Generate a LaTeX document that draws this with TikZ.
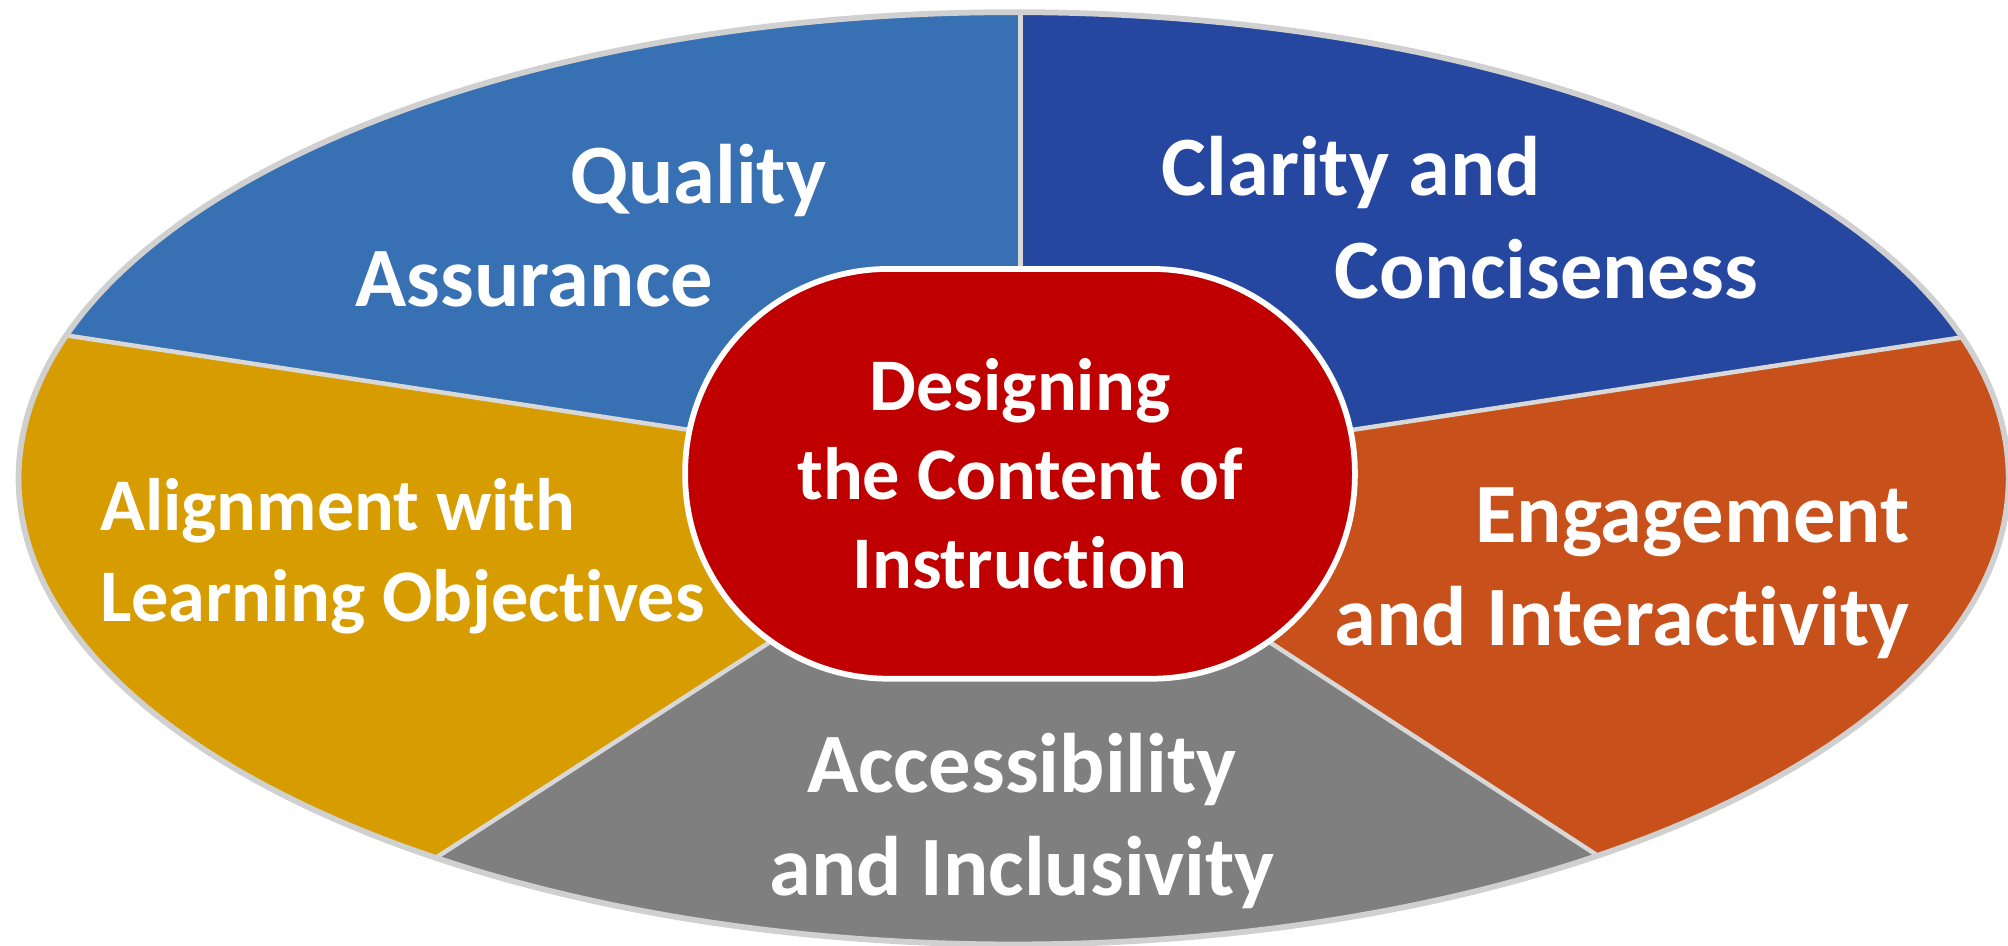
\documentclass[tikz,border=0pt]{standalone}
\usepackage{fontspec}
\setmainfont{Carlito}[Ligatures={NoCommon,NoRare},RawFeature={-liga;-dlig;-clig}]
\definecolor{cQA}{HTML}{3771B3}
\definecolor{cCC}{HTML}{2647A0}
\definecolor{cEI}{HTML}{C8501B}
\definecolor{cAI}{HTML}{7F7F7F}
\definecolor{cAL}{HTML}{D79C00}
\definecolor{cCore}{HTML}{C00000}
\definecolor{cRim}{HTML}{D0D0D0}
\definecolor{cDiv}{HTML}{D8D8D8}
\begin{document}
\begin{tikzpicture}[x=1pt,y=-1pt,
  lbl/.style={text=white,font=\fontsize{66}{66}\selectfont\bfseries,inner sep=0pt,anchor=base west},
  lblsmall/.style={lbl,font=\fontsize{58}{58}\selectfont\bfseries},
  divider/.style={draw=cDiv,line width=3.5pt},
  rim/.style={draw=cRim,line width=4.5pt},
  corebox/.style={rectangle,rounded corners=159pt,minimum width=523pt,minimum height=320pt,
    fill=cCore,draw=white,line width=4.5pt,text=white,align=center,
    font=\fontsize{58}{69.5}\selectfont\bfseries,inner sep=0pt}]
\useasboundingbox (0,0) rectangle (1568,738);
\coordinate (c) at (797,375);
\coordinate (p1) at (797,-355);
\coordinate (p2) at (2273,151);
\coordinate (p3) at (1707,967);
\coordinate (p4) at (-117,965);
\coordinate (p5) at (-679,151);
\coordinate (ec) at (791.5,373.5);
\begin{scope}
  \clip (ec) ellipse [x radius=777pt, y radius=364pt];
  \fill[cQA] (c) -- (p5) -- (-679,-355) -- (p1) -- cycle;
  \fill[cCC] (c) -- (p1) -- (2273,-355) -- (p2) -- cycle;
  \fill[cEI] (c) -- (p2) -- (2273,967) -- (p3) -- cycle;
  \fill[cAI] (c) -- (p3) -- (p4) -- cycle;
  \fill[cAL] (c) -- (p4) -- (-679,965) -- (p5) -- cycle;
  \draw[divider] (c) -- (p1);
  \draw[divider] (c) -- (p2);
  \draw[divider] (c) -- (p3);
  \draw[divider] (c) -- (p4);
  \draw[divider] (c) -- (p5);
\end{scope}
\draw[rim] (ec) ellipse [x radius=777pt, y radius=364pt];
\node[corebox] (core) at (796.5,370) {Designing\\the Content of\\Instruction};
\node[lbl] (qa1) at (445,159) {Quality};
\node[lbl] (qa2) at (277.5,239) {Assurance};
\node[lbl] (cc1) at (907,153) {Clarity and};
\node[lbl] (cc2) at (1042,233) {Conciseness};
\node[lbl] (ei1) at (1152,424) {Engagement};
\node[lbl] (ei2) at (1042,504) {and Interactivity};
\node[lbl] (ai1) at (630,619) {Accessibility};
\node[lbl] (ai2) at (600.5,699) {and Inclusivity};
\node[lblsmall] (al1) at (78,414) {Alignment with};
\node[lblsmall] (al2) at (78,485) {Learning Objectives};
\end{tikzpicture}
\end{document}
